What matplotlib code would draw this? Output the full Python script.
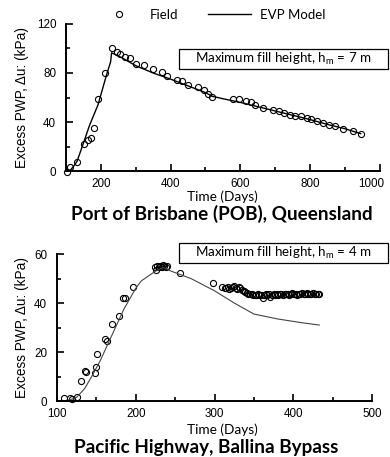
import matplotlib
matplotlib.use("Agg")
import matplotlib.pyplot as plt
import matplotlib.transforms as mtransforms
from matplotlib.patches import Rectangle
from matplotlib.ticker import MultipleLocator

plt.rcParams['font.family'] = ['Liberation Sans', 'DejaVu Sans']
plt.rcParams['mathtext.default'] = 'regular'
LABEL_FONT = ['Lato', 'DejaVu Sans']

# Port of Brisbane (POB) - field readings
pob_field_t = [104, 113, 132, 152, 164, 171, 180, 193, 212, 231, 247, 254, 268, 283,
               302, 323, 350, 375, 391, 419, 433, 451, 480, 495, 506, 519, 580, 597,
               615, 630, 642, 666, 695, 712, 726, 743, 758, 773, 790, 804, 819, 836,
               855, 872, 895, 924, 945]
pob_field_u = [-0.5, 3, 7.6, 22.3, 25, 26.7, 34.8, 58.5, 80, 100.4, 97.4, 95.8, 93.3, 92,
               87.3, 86.5, 83, 80.8, 77.6, 74.3, 73.2, 70.5, 68.3, 66.1, 62.9, 60.7, 59, 58.5,
               56.9, 56.3, 53.6, 51.4, 49.8, 48.7, 47.6, 46, 44.9, 44.9, 43.3, 42.2, 41.1, 39.4,
               37.8, 36.7, 34.5, 32.9, 30.2]
# Port of Brisbane (POB) - EVP model
pob_model_t = [100, 112, 121, 132, 145, 168, 192, 216, 228, 231, 235, 260, 300, 350, 400,
               450, 500, 520, 550, 600, 650, 700, 750, 800, 850, 900, 945]
pob_model_u = [0, 0.5, 3.5, 8, 18.5, 37.5, 54, 78, 89, 96.5, 96, 92.5, 86, 80, 75,
               69.5, 64, 61, 59, 56, 52.5, 49, 45.5, 42, 38, 34.5, 30.5]

# Pacific Highway, Ballina Bypass - field readings
bal_field_t = [109, 116, 119.5, 126, 130, 135, 136.5, 148, 149.5, 151, 161, 163, 170.5, 179,
               184, 186.5, 197, 225, 226, 227, 229, 231, 233, 234, 236, 238, 240, 256, 298, 310,
               313, 315, 317, 319, 321, 323, 325, 327, 329, 331, 333, 335, 337, 339, 341,
               343, 345, 347, 349, 351, 353, 355, 357, 359, 361, 363, 365, 367, 369, 371,
               373, 375, 377, 379, 381, 383, 385, 387, 389, 391, 393, 395, 397, 399, 401,
               403, 405, 407, 409, 411, 413, 415, 417, 419, 421, 423, 425, 427, 429, 431, 433]
bal_field_u = [1.4, 1.1, 0.7, 1.8, 8.2, 12.4, 12.0, 11.3, 14, 19.2, 25.3, 24.5, 31.3, 34.7,
               41.9, 42.2, 46.7, 54.5, 53.3, 54.9, 54.8, 55.0, 54.6, 55.4, 55.0, 54.7, 54.9, 52.1, 48, 46.4,
               46.2, 46.0, 46.4, 45.8, 46.1, 46.5, 46.8, 46.3, 45.9, 46.6, 46.0, 45.2, 44.8, 44.3, 44.0,
               43.8, 43.6, 43.5, 43.3, 43.4, 43.2, 43.5, 43.1, 43.3, 42.2, 43.4, 43.6, 43.2, 43.5, 42.3,
               43.4, 43.7, 43.3, 43.6, 43.4, 43.8, 43.5, 43.3, 43.7, 43.5, 43.8, 43.4, 43.6, 43.9, 43.5,
               43.7, 43.4, 43.8, 43.6, 43.9, 43.5, 43.7, 43.9, 43.6, 43.8, 43.5, 43.9, 43.7, 43.6, 43.8, 43.5]
# Pacific Highway, Ballina Bypass - EVP model
bal_model_t = [100, 115, 125, 135, 145, 155, 170, 185, 200, 207, 225, 235, 245, 270, 300,
               325, 350, 380, 410, 433]
bal_model_u = [0, 0.3, 1.5, 5, 10.5, 16.5, 27, 37.5, 46, 49, 53, 54.5, 53, 50, 45,
               40, 35.5, 33.5, 32, 31]

fig = plt.figure(figsize=(3.9, 4.57), dpi=100)
ax1 = fig.add_axes([0.169, 0.6258, 0.805, 0.3217])
ax2 = fig.add_axes([0.146, 0.1225, 0.808, 0.3217])

ax1.plot(pob_field_t, pob_field_u, 'o', ms=4.4, mfc='none', mec='black', mew=0.8,
         clip_on=False, label='Field')
ax1.plot(pob_model_t, pob_model_u, '-', color='black', lw=1.0, label='EVP Model')
ax2.plot(bal_field_t, bal_field_u, 'o', ms=4.4, mfc='none', mec='black', mew=0.8, clip_on=False)
ax2.plot(bal_model_t, bal_model_u, '-', color='#444444', lw=0.8)

ax1.set_xlim(100, 1000)
ax1.set_ylim(0, 120)
ax1.xaxis.set_major_locator(MultipleLocator(200))
ax1.xaxis.set_minor_locator(MultipleLocator(100))
ax1.yaxis.set_major_locator(MultipleLocator(40))
ax1.yaxis.set_minor_locator(MultipleLocator(20))

ax2.set_xlim(100, 500)
ax2.set_ylim(0, 60)
ax2.xaxis.set_major_locator(MultipleLocator(100))
ax2.xaxis.set_minor_locator(MultipleLocator(50))
ax2.yaxis.set_major_locator(MultipleLocator(20))
ax2.yaxis.set_minor_locator(MultipleLocator(10))

for ax in (ax1, ax2):
    for s in ('top', 'right'):
        ax.spines[s].set_visible(False)
    for s in ('left', 'bottom'):
        ax.spines[s].set_linewidth(1.4)
    ax.tick_params(which='major', direction='in', length=5, width=1.2, labelsize=8.4)
    ax.tick_params(which='minor', direction='in', length=3, width=1.2)
    ax.tick_params(axis='y', which='major', pad=7)
    ax.tick_params(axis='x', which='major', pad=5)

ax1.set_xticks([200, 400, 600, 800, 1000])
# the last label sits a little left of its tick, as in the original
last = ax1.get_xticklabels()[-1]
last.set_transform(last.get_transform() +
                   mtransforms.ScaledTranslation(-6 / 72, 0, fig.dpi_scale_trans))

fig.legend(loc='center', bbox_to_anchor=(211.5 / 390, 1 - 15 / 457), ncol=2, frameon=False,
           handlelength=3.3, handletextpad=0.7, columnspacing=2.2,
           prop={'family': LABEL_FONT, 'size': 9.5})

# y labels
fig.text(22 / 390, 1 - 97 / 457, 'Excess PWP, Δu: (kPa)', rotation=90, ha='center', va='center',
         fontsize=9.8)
fig.text(22 / 390, 1 - 327 / 457, 'Excess PWP, Δu: (kPa)', rotation=90, ha='center', va='center',
         fontsize=9.8)

# x labels and titles
fig.text(222 / 390, 1 - 197 / 457, 'Time (Days)', ha='center', va='center', fontsize=9.8,
         family=LABEL_FONT)
fig.text(222 / 390, 1 - 430 / 457, 'Time (Days)', ha='center', va='center', fontsize=9.8,
         family=LABEL_FONT)
fig.text(221.5 / 390, 1 - 214 / 457, 'Port of Brisbane (POB), Queensland', ha='center',
         va='center', fontsize=13.6, fontweight='bold', family=LABEL_FONT)
fig.text(206.5 / 390, 1 - 448 / 457, 'Pacific Highway, Ballina Bypass', ha='center',
         va='center', fontsize=13.6, fontweight='bold', family=LABEL_FONT)

# fill height boxes
for top_px, label in ((49, 'Maximum fill height, h$_\\mathregular{m}$ = 7 m'),
                      (243, 'Maximum fill height, h$_\\mathregular{m}$ = 4 m')):
    fig.add_artist(Rectangle((179 / 390, 1 - (top_px + 20) / 457), 209 / 390, 20 / 457,
                             transform=fig.transFigure, fill=False, edgecolor='black', lw=0.9))
    fig.text(283.5 / 390, 1 - (top_px + 10) / 457, label, ha='center', va='center',
             fontsize=9.6, family=LABEL_FONT)

fig.savefig('out.png', dpi=100)
